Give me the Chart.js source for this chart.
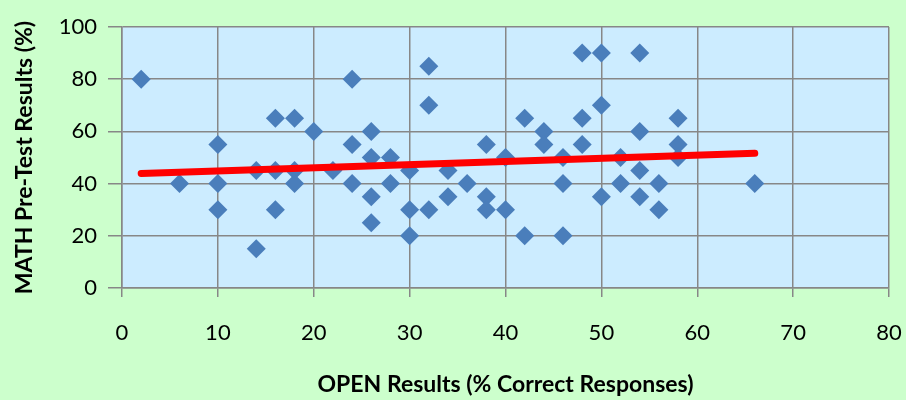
<!DOCTYPE html>
<html>
<head>
<meta charset="utf-8">
<script src="https://cdn.jsdelivr.net/npm/chart.js@4.4.1/dist/chart.umd.min.js"></script>
<style>
  html, body { margin: 0; padding: 0; background: #CCFFCC; }
  #wrap { width: 906px; height: 400px; }
</style>
</head>
<body>
<div id="wrap"><canvas id="resultChart" width="906" height="400"></canvas></div>
<script>
// OPEN results (% correct) vs MATH pre-test results (%)
const openResults = [2, 6, 10, 10, 10, 14, 14, 16, 16, 16, 18, 18, 18, 20, 22, 24, 24, 24,
  26, 26, 26, 26, 28, 28, 30, 30, 30, 32, 32, 32, 34, 34, 36, 38, 38, 38, 40, 40,
  42, 42, 44, 44, 46, 46, 46, 48, 48, 48, 50, 50, 50, 52, 52, 54, 54, 54, 54,
  56, 56, 58, 58, 58, 66];
const mathResults = [80, 40, 55, 40, 30, 45, 15, 65, 45, 30, 65, 45, 40, 60, 45, 80, 55, 40,
  60, 50, 35, 25, 50, 40, 45, 30, 20, 85, 70, 30, 45, 35, 40, 55, 35, 30, 50, 30,
  65, 20, 60, 55, 50, 40, 20, 90, 65, 55, 90, 70, 35, 50, 40, 90, 60, 45, 35,
  40, 30, 65, 55, 50, 40];

// linear trend line end points
const trendX = [2, 66];
const trendY = [43.9, 51.6];

const xTicks = [0, 10, 20, 30, 40, 50, 60, 70, 80];
const yTicks = [0, 20, 40, 60, 80, 100];

const FONT = 'Lato, "Open Sans", sans-serif';

const plotBg = {
  id: 'plotBg',
  beforeDraw(chart) {
    const { ctx, chartArea: a } = chart;
    ctx.save();
    ctx.fillStyle = '#CCFFCC';
    ctx.fillRect(0, 0, chart.width, chart.height);
    ctx.fillStyle = '#CCECFF';
    ctx.fillRect(a.left, a.top, a.right - a.left, a.bottom - a.top);
    ctx.restore();
  }
};

const ctx = document.getElementById('resultChart').getContext('2d');
new Chart(ctx, {
  type: 'scatter',
  data: {
    datasets: [
      {
        type: 'line',
        label: 'Trend',
        data: trendX.map((x, i) => ({ x: x, y: trendY[i] })),
        borderColor: '#FF0000',
        borderWidth: 7,
        borderCapStyle: 'round',
        pointRadius: 0,
        fill: false,
        order: 0
      },
      {
        label: 'Students',
        data: openResults.map((x, i) => ({ x: x, y: mathResults[i] })),
        pointStyle: 'rectRot',
        pointRadius: 9.5,
        pointHoverRadius: 9.5,
        backgroundColor: '#4A7EBB',
        borderWidth: 0,
        order: 1
      }
    ]
  },
  options: {
    responsive: false,
    animation: false,
    layout: { padding: { top: 27, right: 17, left: 0, bottom: 0 } },
    plugins: { legend: { display: false }, tooltip: { enabled: false } },
    scales: {
      x: {
        type: 'linear',
        min: 0,
        max: 80,
        afterBuildTicks: s => { s.ticks = xTicks.map(v => ({ value: v })); },
        afterFit: s => { s.height = 112; s.paddingRight = 0; s.paddingLeft = 0; },
        ticks: { color: '#000', padding: 23, maxRotation: 0, font: { family: FONT, size: 22 } },
        grid: { color: '#878787', lineWidth: 1.5, tickLength: 9, tickColor: '#878787' },
        border: { color: '#878787', width: 1.5 },
        title: {
          display: true,
          text: 'OPEN Results (% Correct Responses)',
          color: '#000',
          font: { family: FONT, size: 23, weight: 'bold' },
          padding: { top: 0, bottom: 2 }
        }
      },
      y: {
        min: 0,
        max: 100,
        afterBuildTicks: s => { s.ticks = yTicks.map(v => ({ value: v })); },
        afterFit: s => { s.width = 122; },
        ticks: { color: '#000', padding: 11, font: { family: FONT, size: 22 } },
        grid: { color: '#878787', lineWidth: 1.5, tickLength: 14, tickColor: '#878787' },
        border: { color: '#878787', width: 1.5 },
        title: {
          display: true,
          text: 'MATH Pre-Test Results (%)',
          color: '#000',
          font: { family: FONT, size: 23, weight: 'bold' },
          padding: { top: 11, bottom: 0 }
        }
      }
    }
  },
  plugins: [plotBg]
});
</script>
</body>
</html>
